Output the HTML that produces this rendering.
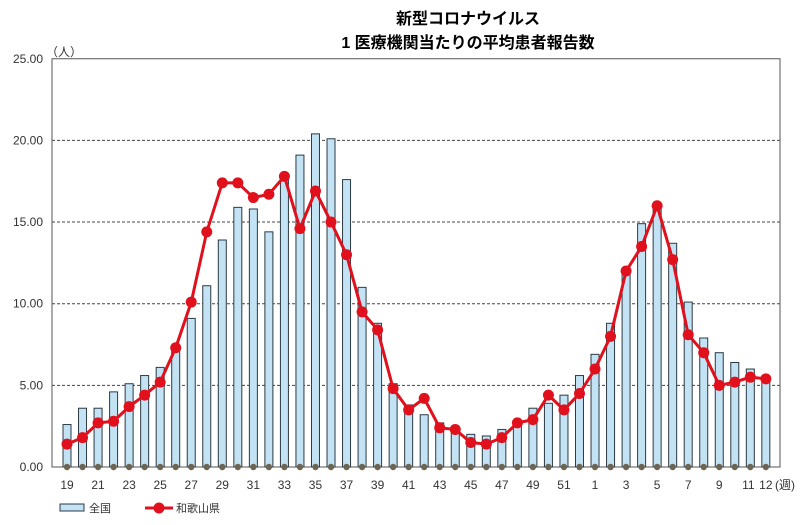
<!DOCTYPE html><html><head><meta charset="utf-8"><style>body{margin:0;background:#fff}svg{display:block;font-family:"Liberation Sans","Noto Sans CJK JP",sans-serif}</style></head><body>
<svg id="s" width="800" height="525" xmlns="http://www.w3.org/2000/svg">
<text x="468" y="24" text-anchor="middle" font-size="16" font-weight="bold" fill="#000">新型コロナウイルス</text>
<text x="468" y="48" text-anchor="middle" font-size="16" font-weight="bold" fill="#000">1 医療機関当たりの平均患者報告数</text>
<text x="46" y="56" font-size="12" fill="#333">（人）</text>
</svg>
<script>
const s=document.getElementById('s'),NS='http://www.w3.org/2000/svg';
function e(t,a,txt){const n=document.createElementNS(NS,t);for(const k in a)n.setAttribute(k,a[k]);if(txt!=null)n.textContent=txt;s.appendChild(n);return n}
const L=52,R=780,B=467,k=16.33;const Y=v=>B-v*k;
for(let v=0;v<=25;v+=5){const y=Y(v);if(v>0&&v<25)e('line',{x1:L,x2:R,y1:y,y2:y,stroke:'#444','stroke-dasharray':'3,2','stroke-width':1});
e('text',{x:43,y:y+4,'text-anchor':'end','font-size':12,fill:'#333'},v.toFixed(2));}
e('rect',{x:L,y:Y(25),width:R-L,height:B-Y(25),fill:'none',stroke:'#555'});
const nat=[2.6,3.6,3.6,4.6,5.1,5.6,6.1,7.2,9.1,11.1,13.9,15.9,15.8,14.4,17.7,19.1,20.4,20.1,17.6,11.0,8.8,5.1,3.8,3.2,2.7,2.3,2.0,1.9,2.3,2.5,3.6,3.9,4.4,5.6,6.9,8.8,11.9,14.9,16.0,13.7,10.1,7.9,7.0,6.4,6.0,5.3];
const wk=[1.4,1.8,2.7,2.8,3.7,4.4,5.2,7.3,10.1,14.4,17.4,17.4,16.5,16.7,17.8,14.6,16.9,15.0,13.0,9.5,8.4,4.8,3.5,4.2,2.4,2.3,1.5,1.4,1.8,2.7,2.9,4.4,3.5,4.5,6.0,8.0,12.0,13.5,16.0,12.7,8.1,7.0,5.0,5.2,5.5,5.4];
const X=i=>67+i*15.53;
nat.forEach((v,i)=>{e('rect',{x:X(i)-4,y:Y(v),width:8,height:v*k,fill:'#c3e3f5',stroke:'#2b3a44','stroke-width':1});
e('circle',{cx:X(i),cy:B,r:3.2,fill:'#6e6452'});});
e('polyline',{points:wk.map((v,i)=>X(i)+','+Y(v)).join(' '),fill:'none',stroke:'#e0101c','stroke-width':3});
wk.forEach((v,i)=>e('circle',{cx:X(i),cy:Y(v),r:5.5,fill:'#e0101c'}));
const labs=[];for(let i=0;i<46;i++){const w=i<34?19+i:i-33;labs.push(w)}
labs.forEach((w,i)=>{if(i%2===0||w===12)e('text',{x:X(i)+(w===11?-2:0),y:489,'text-anchor':'middle','font-size':12,fill:'#333'},w)});
e('text',{x:775,y:489,'font-size':12,fill:'#333'},'(週)');
e('rect',{x:60,y:504,width:24,height:7,fill:'#c3e3f5',stroke:'#2b3a44'});
e('text',{x:89,y:512,'font-size':11,fill:'#333'},'全国');
e('line',{x1:145,x2:173,y1:508,y2:508,stroke:'#e0101c','stroke-width':3});
e('circle',{cx:159,cy:508,r:5.5,fill:'#e0101c'});
e('text',{x:176,y:512,'font-size':11,fill:'#333'},'和歌山県');
</script></body></html>
